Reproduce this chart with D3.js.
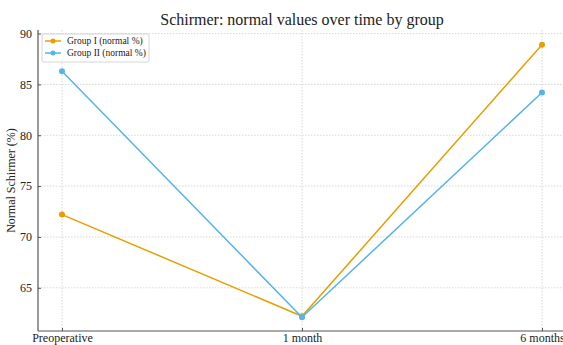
<!DOCTYPE html>
<html><head><meta charset="utf-8">
<script src="https://cdn.jsdelivr.net/npm/d3@7"></script>
<style>body{margin:0;background:#fff;} svg text{font-family:"Liberation Serif","Times New Roman","DejaVu Serif",serif !important;}</style>
</head><body><svg id="c" width="563" height="345" font-family="Liberation Serif, serif"></svg>
<script>
const categories = ["Preoperative", "1 month", "6 months"];
const groupI = [72.2, 62.2, 88.9];
const groupII = [86.3, 62.1, 84.2];
const yTicks = [65, 70, 75, 80, 85, 90];
const seriesNames = ["Group I (normal %)", "Group II (normal %)"];
const colors = ["#E69F00", "#56B4E9"];
const FONT = "Liberation Serif, serif";

const svg = d3.select("#c");
const L = 38, R = 566, T = 30, B = 331;
const x = d3.scaleLinear().domain([-0.1, 2.1]).range([L, R]);
const y = d3.scaleLinear().domain([60.75, 90.35]).range([B, T]);

// grid
const g = svg.append("g");
g.selectAll(".gy").data(yTicks).enter().append("line")
  .attr("x1", L).attr("x2", R).attr("y1", d => y(d)).attr("y2", d => y(d))
  .attr("stroke", "#ccc").attr("stroke-width", 0.8).attr("stroke-dasharray", "1.5,1.5");
g.selectAll(".gx").data(categories).enter().append("line")
  .attr("x1", (d,i) => x(i)).attr("x2", (d,i) => x(i)).attr("y1", T).attr("y2", B)
  .attr("stroke", "#ccc").attr("stroke-width", 0.8).attr("stroke-dasharray", "1.5,1.5");

// axes
const yAxis = d3.axisLeft(y).tickValues(yTicks).tickSizeInner(-3).tickSizeOuter(0).tickPadding(6);
const ya = svg.append("g").attr("transform", `translate(${L},0)`).call(yAxis);
const xAxis = d3.axisBottom(x).tickValues([0,1,2]).tickFormat(i => categories[i]).tickSizeInner(-3).tickSizeOuter(0).tickPadding(2);
const xa = svg.append("g").attr("transform", `translate(0,${B})`).call(xAxis);
[ya, xa].forEach(a => {
  a.attr("font-family", FONT).attr("font-size", 12);
  a.select(".domain").attr("stroke", "#555").attr("stroke-width", 1.2);
  a.selectAll(".tick line").attr("stroke", "#555");
  a.selectAll(".tick text").attr("fill", "#222").attr("font-family", FONT).style("font-size", "12px");
});
xa.selectAll(".tick text").attr("y", 2).attr("dy", "0.71em");
ya.select(".domain").attr("d", `M0,${B}V${T}`);
xa.select(".domain").attr("d", `M${L},0H${R}`);

// lines
const line = d3.line().x((d,i) => x(i)).y(d => y(d));
[groupI, groupII].forEach((s, k) => {
  svg.append("path").datum(s).attr("d", line).attr("fill", "none")
    .attr("stroke", colors[k]).attr("stroke-width", 1.5);
  svg.selectAll(null).data(s).enter().append("circle")
    .attr("cx", (d,i) => x(i)).attr("cy", d => y(d)).attr("r", 3).attr("fill", colors[k]);
});

// title
svg.append("text").attr("x", 302).attr("y", 25).attr("text-anchor", "middle").attr("font-family", FONT)
  .style("font-size", "16px").attr("fill", "#222").text("Schirmer: normal values over time by group");

// y label
svg.append("text").attr("transform", `translate(15,${(T+B)/2}) rotate(-90)`).attr("text-anchor", "middle").attr("font-family", FONT)
  .style("font-size", "12px").attr("fill", "#222").text("Normal Schirmer (%)");

// legend
const lg = svg.append("g");
lg.append("rect").attr("x", 42).attr("y", 34).attr("width", 107).attr("height", 28).attr("rx", 2)
  .attr("fill", "#fff").attr("fill-opacity", 0.85).attr("stroke", "#ccc").attr("stroke-width", 0.8);
seriesNames.forEach((n, k) => {
  const yy = 41 + k * 12;
  lg.append("line").attr("x1", 45).attr("x2", 61).attr("y1", yy).attr("y2", yy).attr("stroke", colors[k]).attr("stroke-width", 1.5);
  lg.append("circle").attr("cx", 53).attr("cy", yy).attr("r", 2.5).attr("fill", colors[k]);
  lg.append("text").attr("x", 67).attr("y", yy + 3).attr("font-family", FONT).style("font-size", "9.5px").attr("fill", "#222").text(n);
});
</script></body></html>
